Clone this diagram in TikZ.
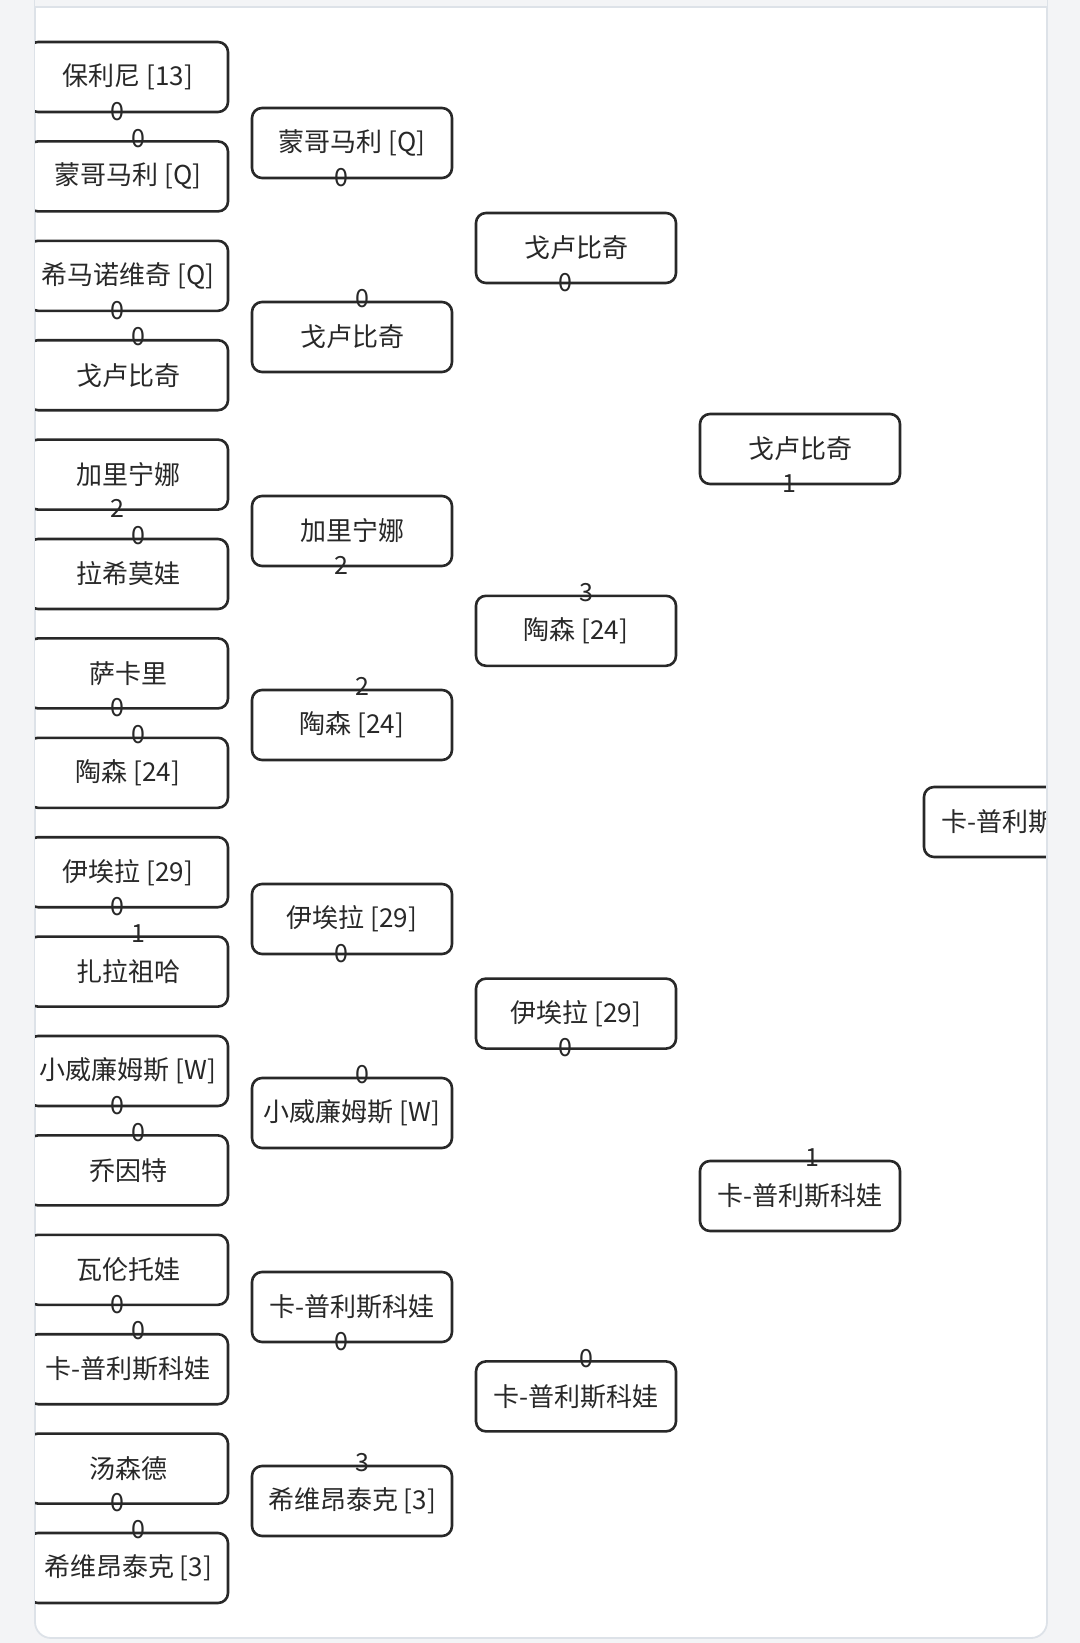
\documentclass[tikz,border=0pt]{standalone}
\usepackage{fontspec}
\newfontfamily\cjk{Noto Sans CJK SC}
\usepackage{tikz}
\usetikzlibrary{positioning}
\definecolor{ink}{RGB}{40,40,40}
\definecolor{page}{RGB}{243,244,246}
\definecolor{rim}{RGB}{221,226,232}
\tikzset{
  player/.style={draw=ink,line width=1.3pt,rounded corners=5pt,fill=white,
    minimum width=100pt,minimum height=35pt,inner sep=0pt,text=ink,
    font=\cjk\fontsize{13}{15}\selectfont},
  score/.style={inner sep=0pt,text=ink,font=\cjk\fontsize{12.5}{14}\selectfont},
}

\begin{document}
\begin{tikzpicture}[x=0.5pt,y=-0.5pt]
\useasboundingbox (0,0) rectangle (1080,1643);
% card
\fill[page] (0,0) rectangle (1080,1643);
\draw[rim,line width=0.9pt,fill=white,rounded corners=8pt] (35,-40) rectangle (1047,1638);
\fill[page] (35,0) rectangle (1047,6);
\draw[rim,line width=0.9pt] (35,7) -- (1047,7);
\begin{scope}
\clip (35,7) rectangle (1047,1638);
% round 1
\foreach \nm/\sc [count=\i] in {{保利尼 [13]}/0,{蒙哥马利 [Q]}/0,{希马诺维奇 [Q]}/0,戈卢比奇/0,
    加里宁娜/2,拉希莫娃/0,萨卡里/0,{陶森 [24]}/0,{伊埃拉 [29]}/0,扎拉祖哈/1,
    {小威廉姆斯 [W]}/0,乔因特/0,瓦伦托娃/0,卡-普利斯科娃/0,汤森德/0,{希维昂泰克 [3]}/0}{
  \node[player] (a\i) at (128,{77+99.4*(\i-1)}) {\nm};
  \ifodd\i
    \node[score] (sa\i) at ([xshift=-5.5pt,yshift=1pt]a\i.south) {\sc};
  \else
    \node[score] (sa\i) at ([xshift=5pt,yshift=1pt]a\i.north) {\sc};
  \fi
}
% round 2
\foreach \nm/\sc [count=\i] in {{蒙哥马利 [Q]}/0,戈卢比奇/0,加里宁娜/2,{陶森 [24]}/2,
    {伊埃拉 [29]}/0,{小威廉姆斯 [W]}/0,卡-普利斯科娃/0,{希维昂泰克 [3]}/3}{
  \node[player] (b\i) at (352,{143+194*(\i-1)}) {\nm};
  \ifodd\i
    \node[score] (sb\i) at ([xshift=-5.5pt,yshift=1pt]b\i.south) {\sc};
  \else
    \node[score] (sb\i) at ([xshift=5pt,yshift=1pt]b\i.north) {\sc};
  \fi
}
% round 3
\foreach \nm/\sc [count=\i] in {戈卢比奇/0,{陶森 [24]}/3,{伊埃拉 [29]}/0,卡-普利斯科娃/0}{
  \node[player] (c\i) at (576,{248+382.8*(\i-1)}) {\nm};
  \ifodd\i
    \node[score] (sc\i) at ([xshift=-5.5pt,yshift=1pt]c\i.south) {\sc};
  \else
    \node[score] (sc\i) at ([xshift=5pt,yshift=1pt]c\i.north) {\sc};
  \fi
}
% round 4
\foreach \nm/\sc [count=\i] in {戈卢比奇/1,卡-普利斯科娃/1}{
  \node[player] (d\i) at (800,{449+747*(\i-1)}) {\nm};
  \ifodd\i
    \node[score] (sd\i) at ([xshift=-5.5pt,yshift=1pt]d\i.south) {\sc};
  \else
    \node[score] (sd\i) at ([xshift=6pt,yshift=1pt]d\i.north) {\sc};
  \fi
}
% final, cut off by the card
\node[player] (e1) at (1024,822) {卡-普利斯科娃};
\end{scope}
\draw[rim,line width=0.9pt] (1047,7) -- (1047,1620);
\end{tikzpicture}
\end{document}
